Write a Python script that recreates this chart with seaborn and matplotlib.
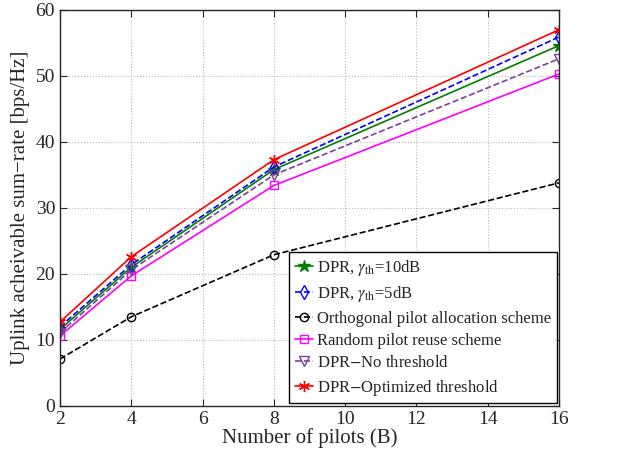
import numpy as np
import pandas as pd
import seaborn as sns
import matplotlib.pyplot as plt

pilots = [2, 4, 8, 16]
dpr_10db = [11.6, 21.0, 35.8, 54.6]
dpr_5db = [12.0, 21.4, 36.2, 55.9]
orthogonal = [7.1, 13.5, 22.9, 33.8]
random_reuse = [10.6, 19.7, 33.4, 50.3]
dpr_no_th = [11.1, 20.6, 35.0, 52.6]
dpr_opt = [12.7, 22.6, 37.3, 57.0]

labels = [r'DPR, $\gamma_{\mathrm{th}}$=10dB', r'DPR, $\gamma_{\mathrm{th}}$=5dB',
          'Orthogonal pilot allocation scheme', 'Random pilot reuse scheme',
          'DPR$-$No threshold', 'DPR$-$Optimized threshold']

sns.set_style('ticks')
plt.rcParams['font.family'] = ['Liberation Serif', 'DejaVu Serif']
plt.rcParams['mathtext.fontset'] = 'stix'

fig = plt.figure(figsize=(6.31, 4.5), dpi=100)
ax = fig.add_axes([0.095, 0.098, 0.791, 0.88])

styles = [
    (dpr_10db, '#007f00', '-', '*', '#007f00', 9),
    (dpr_5db, '#0000ff', '--', 'd', 'none', 7),
    (orthogonal, 'black', '--', 'o', 'none', 6),
    (random_reuse, '#ff00ff', '-', 's', 'none', 6),
    (dpr_no_th, '#7e3f9a', '--', 'v', 'none', 7),
    (dpr_opt, '#ff0000', '-', (6, 2, 0), '#ff0000', 8),
]
for (vals, col, ls, mk, fc, ms), lab in zip(styles, labels):
    sns.lineplot(x=pilots, y=vals, ax=ax, color=col, linestyle=ls, marker=mk,
                 markerfacecolor=fc, markeredgecolor=col, markersize=ms,
                 markeredgewidth=1.0, linewidth=1.2, label=lab)

ax.set_xlim(2, 16)
ax.set_ylim(0, 60)
ax.set_xticks(range(2, 17, 2))
ax.set_yticks(range(0, 61, 10))
ax.grid(True, linestyle=':', color='#b8b8b8', linewidth=0.8)
ax.tick_params(direction='in', top=True, right=True, labelsize=14, length=5)
for s in ax.spines.values():
    s.set_linewidth(1.0)
ax.set_xlabel('Number of pilots (B)', fontsize=15, labelpad=0)
ax.set_ylabel('Uplink acheivable sum\u2212rate [bps/Hz]', fontsize=15, labelpad=4)

leg = ax.legend(loc='lower right', fontsize=12, frameon=True, fancybox=False,
                edgecolor='black', framealpha=1, handlelength=1.1,
                handletextpad=0.2, labelspacing=0.38, borderpad=0.35,
                borderaxespad=0.15)
leg.get_frame().set_linewidth(1.0)

fig.savefig('out.png', dpi=100)
